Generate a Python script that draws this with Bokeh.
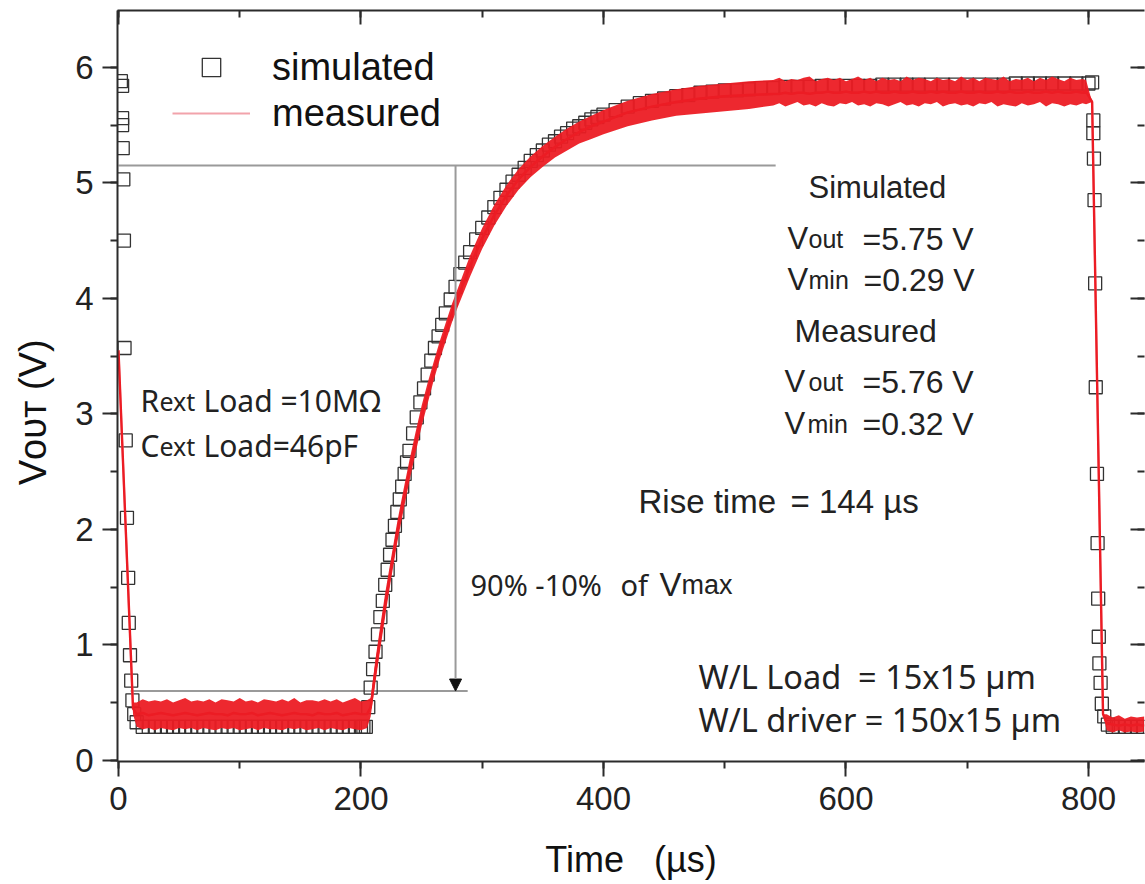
import math
from bokeh.plotting import figure
from bokeh.models import (Range1d, LinearAxis, Label, Legend, LegendItem, Arrow,
                          NormalHead, SingleIntervalTicker, CustomJSTickFormatter)
from bokeh.embed import file_html
from bokeh.resources import INLINE

# ---------------- data ----------------
# simulated (open squares)
sim_t = [2, 3, 3, 3, 3.5, 4, 4.5, 5, 6, 7, 8, 8.5, 9.5, 10.5, 11.5, 13, 15,
         20, 25, 30, 35, 40, 45, 50, 55, 60, 65, 70, 75, 80, 85, 90, 95, 100,
         105, 110, 115, 120, 125, 130, 135, 140, 145, 150, 155, 160, 165, 170,
         175, 180, 185, 190, 195, 200, 202, 204,
         206, 208, 210, 212, 214, 216, 218, 220, 222, 224, 226, 228, 230, 232,
         234, 236, 238, 240, 243, 246, 249, 252, 255, 258, 261, 264, 267, 270,
         274, 278, 282, 286, 290, 295, 300, 305, 310, 315, 320, 325, 330, 335,
         340, 345, 350, 355, 360, 365, 370, 375, 380, 385, 390, 395, 400, 410,
         420, 430, 440, 450, 460, 470, 480, 490, 500, 510, 520, 530, 540, 550,
         560, 570, 580, 590, 600, 610, 620, 630, 640, 650, 660, 670, 680, 690,
         700, 710, 720, 730, 740, 750, 760, 770, 780, 790, 800,
         803, 804, 804, 804.5, 805, 805.5, 806, 807, 807.5, 808, 808.5, 809,
         810, 811, 813, 816, 820, 825, 830, 835, 840, 845]
sim_v = [5.88, 5.84, 5.56, 5.50, 5.30, 5.03, 4.50, 3.57, 2.77, 2.10, 1.58, 1.19,
         0.91, 0.69, 0.52, 0.40, 0.33,
         0.29, 0.29, 0.29, 0.29, 0.29, 0.29, 0.29, 0.29, 0.29, 0.29, 0.29, 0.29,
         0.29, 0.29, 0.29, 0.29, 0.29, 0.29, 0.29, 0.29, 0.29, 0.29, 0.29, 0.29,
         0.29, 0.29, 0.29, 0.29, 0.29, 0.29, 0.29, 0.29, 0.29, 0.29, 0.29, 0.29,
         0.29, 0.29, 0.29,
         0.46, 0.63, 0.79, 0.94, 1.09, 1.24, 1.38, 1.52, 1.65, 1.78, 1.91, 2.03,
         2.15, 2.26, 2.37, 2.48, 2.58, 2.68, 2.83, 2.97, 3.10, 3.22, 3.34, 3.46,
         3.57, 3.67, 3.77, 3.87, 3.99, 4.10, 4.21, 4.31, 4.40, 4.51, 4.61, 4.70,
         4.79, 4.87, 4.94, 5.01, 5.07, 5.13, 5.19, 5.24, 5.28, 5.33, 5.36, 5.40,
         5.43, 5.47, 5.49, 5.52, 5.55, 5.57, 5.59, 5.63, 5.66, 5.69, 5.71, 5.73,
         5.75, 5.76, 5.78, 5.79, 5.80, 5.80, 5.81, 5.82, 5.82, 5.83, 5.83, 5.83,
         5.84, 5.84, 5.84, 5.84, 5.84, 5.85, 5.85, 5.85, 5.85, 5.85, 5.85, 5.85,
         5.85, 5.85, 5.85, 5.85, 5.86, 5.86, 5.86, 5.86, 5.86, 5.86, 5.86,
         5.87, 5.54, 5.43, 5.21, 4.85, 4.13, 3.23, 2.48, 1.88, 1.40, 1.07, 0.84,
         0.67, 0.49, 0.38, 0.31, 0.29, 0.29, 0.29, 0.29, 0.29, 0.29]

# measured (noisy red trace): centre value and noise envelope, per segment
fall0_t = [0, 12]
fall0_v = [3.55, 0.45]
fall0_lo = [3.55, 0.40]
fall0_hi = [3.55, 0.50]

low_t = [15, 20, 25, 30, 35, 40, 45, 50, 55, 60, 65, 70, 75, 80, 85, 90, 95,
         100, 105, 110, 115, 120, 125, 130, 135, 140, 145, 150, 155, 160, 165,
         170, 175, 180, 185, 190, 195, 200, 205]
low_v = [0.40, 0.41, 0.39, 0.40, 0.41, 0.40, 0.39, 0.40, 0.41, 0.40, 0.39, 0.40,
         0.41, 0.40, 0.40, 0.39, 0.41, 0.40, 0.40, 0.41, 0.39, 0.40, 0.41, 0.40,
         0.39, 0.40, 0.41, 0.40, 0.40, 0.39, 0.41, 0.40, 0.40, 0.41, 0.39, 0.40,
         0.41, 0.40, 0.40]
low_lo = [0.29, 0.27, 0.28, 0.26, 0.28, 0.27, 0.26, 0.28, 0.27, 0.28, 0.26, 0.28,
          0.27, 0.26, 0.28, 0.27, 0.28, 0.26, 0.27, 0.28, 0.26, 0.28, 0.27, 0.27,
          0.26, 0.28, 0.27, 0.28, 0.26, 0.27, 0.28, 0.26, 0.28, 0.27, 0.26, 0.28,
          0.27, 0.26, 0.28]
low_hi = [0.50, 0.53, 0.51, 0.52, 0.51, 0.53, 0.50, 0.52, 0.54, 0.51, 0.52, 0.51,
          0.53, 0.50, 0.53, 0.52, 0.51, 0.54, 0.51, 0.52, 0.50, 0.53, 0.52, 0.51,
          0.53, 0.51, 0.54, 0.50, 0.52, 0.52, 0.51, 0.53, 0.51, 0.53, 0.50, 0.52,
          0.54, 0.51, 0.52]

rise_t = [208, 212, 216, 220, 225, 230, 235, 240, 245, 250, 255, 260, 265, 270,
          275, 280, 290, 300, 310, 320, 330, 340, 350, 360, 370, 380, 390, 400,
          420, 440, 460, 480, 500, 520]
rise_v = [0.46, 0.78, 1.07, 1.35, 1.67, 1.98, 2.25, 2.51, 2.75, 2.98, 3.18, 3.37,
          3.55, 3.71, 3.87, 4.01, 4.28, 4.52, 4.72, 4.89, 5.03, 5.14, 5.23, 5.31,
          5.38, 5.44, 5.49, 5.53, 5.61, 5.66, 5.70, 5.73, 5.75, 5.76]
rise_lo = [0.38, 0.68, 0.97, 1.25, 1.58, 1.89, 2.16, 2.42, 2.66, 2.89, 3.09, 3.29,
           3.47, 3.63, 3.79, 3.93, 4.19, 4.43, 4.63, 4.80, 4.94, 5.05, 5.14, 5.22,
           5.28, 5.34, 5.38, 5.42, 5.49, 5.54, 5.58, 5.60, 5.62, 5.64]
rise_hi = [0.54, 0.88, 1.17, 1.45, 1.76, 2.07, 2.34, 2.60, 2.84, 3.07, 3.27, 3.45,
           3.63, 3.79, 3.95, 4.09, 4.37, 4.61, 4.81, 4.98, 5.12, 5.23, 5.32, 5.40,
           5.47, 5.53, 5.58, 5.63, 5.71, 5.77, 5.81, 5.84, 5.86, 5.88]

high_t = [540, 545, 550, 555, 560, 565, 570, 575, 580, 585, 590, 595, 600, 605,
          610, 615, 620, 625, 630, 635, 640, 645, 650, 655, 660, 665, 670, 675,
          680, 685, 690, 695, 700, 705, 710, 715, 720, 725, 730, 735, 740, 745,
          750, 755, 760, 765, 770, 775, 780, 785, 790, 795, 798]
high_v = [5.77, 5.77, 5.78, 5.77, 5.78, 5.78, 5.77, 5.78, 5.78, 5.79, 5.78, 5.78,
          5.79, 5.78, 5.78, 5.79, 5.78, 5.79, 5.78, 5.78, 5.79, 5.78, 5.78, 5.79,
          5.78, 5.78, 5.79, 5.78, 5.79, 5.78, 5.78, 5.79, 5.78, 5.78, 5.79, 5.78,
          5.78, 5.79, 5.78, 5.79, 5.78, 5.78, 5.79, 5.78, 5.78, 5.79, 5.78, 5.79,
          5.78, 5.78, 5.79, 5.78, 5.79]
high_lo = [5.67, 5.69, 5.66, 5.68, 5.70, 5.67, 5.68, 5.66, 5.69, 5.67, 5.66, 5.69,
           5.68, 5.70, 5.67, 5.68, 5.66, 5.69, 5.68, 5.66, 5.68, 5.70, 5.67, 5.68,
           5.66, 5.69, 5.68, 5.70, 5.66, 5.68, 5.69, 5.67, 5.68, 5.66, 5.69, 5.68,
           5.70, 5.66, 5.68, 5.67, 5.66, 5.69, 5.67, 5.68, 5.70, 5.66, 5.69, 5.68,
           5.66, 5.68, 5.67, 5.69, 5.68]
high_hi = [5.89, 5.91, 5.88, 5.90, 5.89, 5.91, 5.92, 5.88, 5.90, 5.91, 5.89, 5.91,
           5.88, 5.90, 5.92, 5.89, 5.91, 5.88, 5.91, 5.89, 5.90, 5.88, 5.92, 5.89,
           5.91, 5.90, 5.88, 5.91, 5.89, 5.90, 5.88, 5.92, 5.89, 5.91, 5.88, 5.91,
           5.90, 5.89, 5.92, 5.88, 5.90, 5.89, 5.91, 5.88, 5.91, 5.89, 5.92, 5.90,
           5.88, 5.91, 5.89, 5.90, 5.89]

fall1_t = [803, 812, 815, 820, 825, 830, 835, 840, 846]
fall1_v = [5.70, 0.40, 0.32, 0.31, 0.30, 0.31, 0.30, 0.31, 0.30]
fall1_lo = [5.70, 0.40, 0.26, 0.24, 0.26, 0.24, 0.25, 0.24, 0.25]
fall1_hi = [5.70, 0.40, 0.40, 0.37, 0.39, 0.36, 0.38, 0.37, 0.38]

meas_t = fall0_t + low_t + rise_t + high_t + fall1_t
meas_v = fall0_v + low_v + rise_v + high_v + fall1_v
meas_lo = fall0_lo + low_lo + rise_lo + high_lo + fall1_lo
meas_hi = fall0_hi + low_hi + rise_hi + high_hi + fall1_hi

x_tick_interval = 200
y_tick_interval = 1
ref_high_v = 5.15
ref_high_t = [0, 542]
ref_low_v = 0.60
ref_low_t = [10, 288]
arrow_t = 278

# ---------------- frame geometry ----------------
FR_L, FR_R, FR_T, FR_B = 117, 1144, 10, 761
X_START, X_END = -0.8, 846.2
Y_START, Y_END = -0.01, 6.492


def tx(px):
    return X_START + (px - FR_L) * (X_END - X_START) / (FR_R - FR_L)


def vy(py):
    return Y_START + (FR_B - py) * (Y_END - Y_START) / (FR_B - FR_T)


p = figure(width=1145, height=884, output_backend="svg", toolbar_location=None,
           x_range=Range1d(X_START, X_END), y_range=Range1d(Y_START, Y_END),
           min_border_left=FR_L, min_border_right=1145 - FR_R,
           min_border_top=FR_T, min_border_bottom=884 - FR_B)
p.outline_line_color = None
p.xgrid.visible = False
p.ygrid.visible = False
p.background_fill_color = "white"

AX_COL = "#2b2b2b"
FONT = "Liberation Sans"
NBSP = "\u00a0"

xt = SingleIntervalTicker(interval=x_tick_interval, num_minor_ticks=2)
yt = SingleIntervalTicker(interval=y_tick_interval, num_minor_ticks=2)

for ax in p.xaxis:
    ax.ticker = xt
for ax in p.yaxis:
    ax.ticker = yt

for ax in list(p.xaxis) + list(p.yaxis):
    ax.axis_line_color = AX_COL
    ax.axis_line_width = 2
    ax.major_tick_line_color = AX_COL
    ax.major_tick_line_width = 2
    ax.minor_tick_line_color = AX_COL
    ax.minor_tick_line_width = 2
    ax.major_tick_in = 0
    ax.major_tick_out = 15
    ax.minor_tick_in = 0
    ax.minor_tick_out = 7
    ax.major_label_text_font = FONT
    ax.major_label_text_font_size = "33px"
    ax.major_label_text_color = "#222222"
    ax.axis_label_text_font = FONT
    ax.axis_label_text_font_style = "normal"
    ax.axis_label_text_color = "#111111"
p.xaxis.major_label_standoff = 10
p.yaxis.major_label_standoff = 9

p.xaxis.axis_label = "Time" + NBSP * 3 + "(µs)"
p.xaxis.axis_label_text_font_size = "36px"
p.xaxis.axis_label_standoff = 26

p.yaxis.axis_label = "V\u1d0f\u1d1c\u1d1b (V)" + NBSP * 5
p.yaxis.axis_label_text_font_size = "38px"
p.yaxis.axis_label_standoff = 18

top = LinearAxis(ticker=xt)
right = LinearAxis(ticker=yt)
for ax in (top, right):
    ax.axis_line_color = AX_COL
    ax.axis_line_width = 2
    ax.major_tick_line_color = AX_COL
    ax.major_tick_line_width = 2
    ax.minor_tick_line_color = AX_COL
    ax.minor_tick_line_width = 2
    ax.major_tick_in = 14
    ax.major_tick_out = 0
    ax.minor_tick_in = 7
    ax.minor_tick_out = 0
    ax.formatter = CustomJSTickFormatter(code="return '';")
    ax.major_label_standoff = 0
right.axis_line_color = None
p.add_layout(top, "above")
p.add_layout(right, "right")

# ---------------- reference lines ----------------
p.line(ref_high_t, [ref_high_v, ref_high_v], line_color="#9a9a9a", line_width=2)
p.line(ref_low_t, [ref_low_v, ref_low_v], line_color="#9a9a9a", line_width=2)
p.add_layout(Arrow(end=NormalHead(size=12, fill_color="#111111", line_color="#111111"),
                   x_start=arrow_t, y_start=ref_high_v, x_end=arrow_t, y_end=ref_low_v,
                   line_color="#9a9a9a", line_width=2))

# ---------------- data ----------------
RED = "#ec1c24"
sim_r = p.scatter(sim_t, sim_v, marker="square", size=13, fill_color=None,
                  line_color="#333333", line_width=1.3)
# pale copy of the measured centre line underneath (used for the legend swatch)
meas_leg = p.line(meas_t, meas_v, line_color="#f2a3ab", line_width=2)
p.varea(x=meas_t, y1=meas_lo, y2=meas_hi, fill_color=RED, fill_alpha=0.95)
meas_r = p.line(meas_t, meas_v, line_color=RED, line_width=2.4)

legend = Legend(items=[LegendItem(label="simulated", renderers=[sim_r]),
                       LegendItem(label="measured", renderers=[meas_leg])],
                location=(55, 625), orientation="vertical",
                glyph_width=78, glyph_height=46, label_height=46,
                label_standoff=22, spacing=0, padding=0, margin=0,
                border_line_color=None, background_fill_alpha=0,
                label_text_font=FONT, label_text_font_size="38px",
                label_text_color="#111111")
p.add_layout(legend, "center")


# ---------------- text annotations ----------------
def lab(px, py, text, size, font=FONT, color="#222222"):
    p.add_layout(Label(x=tx(px), y=vy(py), text=text, text_font=font,
                       text_font_size=f"{size}px", text_color=color,
                       text_align="left", text_baseline="alphabetic"))


# simulated / measured block
lab(808, 187, "Simulated", 31)
lab(787, 238, "V", 31)
lab(808, 238, "out", 25)
lab(862, 238, "=5.75 V", 32)
lab(787, 279, "V", 31)
lab(808, 279, "min", 25)
lab(863, 279, "=0.29 V", 32)
lab(794, 330, "Measured", 32)
lab(784, 381, "V", 31)
lab(808, 381, "out", 25)
lab(862, 381, "=5.76 V", 32)
lab(784, 423, "V", 31)
lab(807, 423, "min", 25)
lab(862, 423, "=0.32 V", 32)

lab(638, 501, "Rise time", 33)
lab(790, 501, "= 144 µs", 33)

SEG = "Noto Sans"
lab(470, 584, "90% -10%", 29, SEG)
lab(620, 584, "of", 29, SEG)
lab(659, 584, "V", 33)
lab(681, 584, "max", 27)

lab(698, 676, "W/L Load" + NBSP * 2 + "= 15x15 µm", 32.5, SEG)
lab(698, 719, "W/L driver = 150x15 µm", 32.5, SEG)

lab(140, 400, "R", 30, SEG)
lab(159, 400, "ext", 25, SEG)
lab(203, 400, "Load =10MΩ", 30, SEG)
lab(140, 445, "C", 30, SEG)
lab(159, 445, "ext", 25, SEG)
lab(203, 445, "Load=46pF", 30, SEG)

open("out.html", "w").write(file_html(p, INLINE))
